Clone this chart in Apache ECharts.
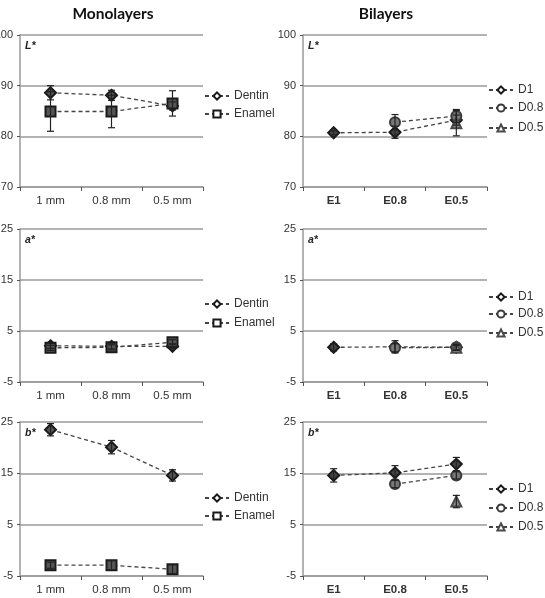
<!DOCTYPE html>
<html><head><meta charset="utf-8">
<script src="https://cdn.jsdelivr.net/npm/echarts@6/dist/echarts.min.js"></script>
<style>html,body{margin:0;padding:0;background:#fff}#c{width:545px;height:598px}</style>
</head><body><div id="c"></div>
<script>
// ---- data ----
const monoCats = ['1 mm', '0.8 mm', '0.5 mm'];
const biCats = ['E1', 'E0.8', 'E0.5'];

const monoL_dentin = [88.6, 88.1, 86.0];
const monoL_dentinErr = [1.4, 1.0, 0.8];
const monoL_enamel = [84.9, 84.9, 86.5];
const monoL_enamelErr = [3.9, 3.2, 2.5];

const monoA_dentin = [2.1, 2.0, 2.0];
const monoA_dentinErr = [0.5, 0.5, 0.5];
const monoA_enamel = [1.7, 1.8, 2.8];
const monoA_enamelErr = [0.5, 0.5, 0.5];

const monoB_dentin = [23.5, 20.1, 14.6];
const monoB_dentinErr = [1.2, 1.3, 1.1];
const monoB_enamel = [-2.9, -2.9, -3.7];
const monoB_enamelErr = [0.6, 0.9, 0.9];

const biL_D1 = [80.7, 80.8, 83.2];
const biL_D1Err = [0.4, 1.2, 1.0];
const biL_D08 = [null, 82.8, 84.0];
const biL_D08Err = [null, 1.5, 1.3];
const biL_D05 = [null, null, 82.6];
const biL_D05Err = [null, null, 2.5];

const biA_D1 = [1.8, 1.9, 1.8];
const biA_D1Err = [0.7, 1.2, 0.6];
const biA_D08 = [null, 1.7, 1.8];
const biA_D08Err = [null, 0.8, 0.5];
const biA_D05 = [null, null, 1.7];
const biA_D05Err = [null, null, 0.5];

const biB_D1 = [14.6, 15.1, 16.8];
const biB_D1Err = [1.3, 1.4, 1.3];
const biB_D08 = [null, 12.9, 14.6];
const biB_D08Err = [null, 0.7, 0.7];
const biB_D05 = [null, null, 9.5];
const biB_D05Err = [null, null, 1.2];

const panelTitles = ['Monolayers', 'Bilayers'];
const panelLabels = ['L*', 'a*', 'b*'];
const yRanges = [[70, 100, 10], [-5, 25, 10], [-5, 25, 10]];

// ---- styles ----
const FONT = 'Arial, "Liberation Sans", sans-serif';
const styles = {
  'Dentin': {symbol: 'diamond', size: 11, fill: '#555', border: '#1a1a1a'},
  'Enamel': {symbol: 'rect', size: 10, fill: '#555', border: '#1a1a1a'},
  'D1': {symbol: 'diamond', size: 11, fill: '#444', border: '#1a1a1a'},
  'D0.8': {symbol: 'circle', size: 10, fill: '#777', border: '#3a3a3a'},
  'D0.5': {symbol: 'triangle', size: 10, fill: '#888', border: '#4a4a4a'}
};

const gridsPos = [
  {left: 20, top: 35, width: 183, height: 152},
  {left: 303, top: 35, width: 184, height: 152},
  {left: 20, top: 229, width: 183, height: 153},
  {left: 303, top: 229, width: 184, height: 153},
  {left: 20, top: 422, width: 183, height: 154},
  {left: 303, top: 422, width: 184, height: 154}
];

const panels = [
  {cats: monoCats, row: 0, series: [['Dentin', monoL_dentin, monoL_dentinErr], ['Enamel', monoL_enamel, monoL_enamelErr]]},
  {cats: biCats, row: 0, series: [['D1', biL_D1, biL_D1Err], ['D0.8', biL_D08, biL_D08Err], ['D0.5', biL_D05, biL_D05Err]]},
  {cats: monoCats, row: 1, series: [['Dentin', monoA_dentin, monoA_dentinErr], ['Enamel', monoA_enamel, monoA_enamelErr]]},
  {cats: biCats, row: 1, series: [['D1', biA_D1, biA_D1Err], ['D0.8', biA_D08, biA_D08Err], ['D0.5', biA_D05, biA_D05Err]]},
  {cats: monoCats, row: 2, series: [['Dentin', monoB_dentin, monoB_dentinErr], ['Enamel', monoB_enamel, monoB_enamelErr]]},
  {cats: biCats, row: 2, series: [['D1', biB_D1, biB_D1Err], ['D0.8', biB_D08, biB_D08Err], ['D0.5', biB_D05, biB_D05Err]]}
];

// legend item vertical centers
const legendCenters = {
  0: [96, 114], 1: [90, 108, 128],
  2: [304, 323], 3: [297, 314, 333],
  4: [498, 516], 5: [489, 508, 527]
};

const grid = [], xAxis = [], yAxis = [], series = [], legend = [], title = [];
const axisGray = '#9a9a9a';

panels.forEach((p, i) => {
  const isBi = i % 2 === 1;
  grid.push(Object.assign({outerBoundsMode: 'none', containLabel: false}, gridsPos[i]));
  const [mn, mx, iv] = yRanges[p.row];
  xAxis.push({
    type: 'category', gridIndex: i, data: p.cats, boundaryGap: true,
    axisLine: {onZero: false, lineStyle: {color: axisGray, width: 1.5}},
    axisTick: {show: true, length: 4, lineStyle: {color: '#555'}},
    axisLabel: {color: '#333', fontSize: 11.5, fontFamily: FONT, fontWeight: isBi ? 'bold' : 'normal', margin: 8}
  });
  yAxis.push({
    type: 'value', gridIndex: i, min: mn, max: mx, interval: iv,
    axisLine: {show: true, lineStyle: {color: axisGray, width: 1.5}},
    axisTick: {show: true, length: 3, lineStyle: {color: '#555'}},
    axisLabel: {color: '#333', fontSize: 11, fontFamily: FONT, margin: 7},
    splitLine: {show: true, lineStyle: {color: axisGray, width: 1.5}}
  });
  title.push({
    text: panelLabels[p.row], left: gridsPos[i].left + 5, top: gridsPos[i].top + 6, padding: 0,
    textStyle: {fontSize: 10.5, fontWeight: 'bold', fontStyle: 'italic', color: '#222', fontFamily: FONT}
  });
  p.series.forEach(([name, vals, errs], k) => {
    const st = styles[name];
    series.push({
      name: name, type: 'line', xAxisIndex: i, yAxisIndex: i, data: vals,
      symbol: st.symbol, symbolSize: st.size, showSymbol: true, connectNulls: false,
      lineStyle: {color: '#444', width: 1.3, type: [4, 3]},
      itemStyle: {color: st.fill, borderColor: st.border, borderWidth: 2},
      z: 3, animation: false
    });
    const ebData = [];
    vals.forEach((v, j) => { if (v !== null) ebData.push([j, v - errs[j], v + errs[j]]); });
    series.push({
      name: name + ' err', type: 'custom', xAxisIndex: i, yAxisIndex: i, data: ebData,
      encode: {x: 0, y: [1, 2]}, z: 4, animation: false, silent: true,
      renderItem: function (params, api) {
        const x = api.value(0);
        const lo = api.coord([x, api.value(1)]);
        const hi = api.coord([x, api.value(2)]);
        const w = 3.5;
        const s = {stroke: '#222', lineWidth: 1.2};
        return {type: 'group', children: [
          {type: 'line', shape: {x1: lo[0], y1: lo[1], x2: hi[0], y2: hi[1]}, style: s},
          {type: 'line', shape: {x1: lo[0] - w, y1: lo[1], x2: lo[0] + w, y2: lo[1]}, style: s},
          {type: 'line', shape: {x1: hi[0] - w, y1: hi[1], x2: hi[0] + w, y2: hi[1]}, style: s}
        ]};
      }
    });
    legend.push({
      data: [{name: name, itemStyle: {color: '#fff', borderColor: st.border, borderWidth: 2}}],
      left: isBi ? 488 : 204, top: legendCenters[i][k] - 7, padding: 0,
      itemWidth: 24, itemHeight: 9, itemGap: 2, selectedMode: false,
      textStyle: {fontSize: 12, color: '#333', fontFamily: FONT, lineHeight: 14}
    });
  });
});

title.push({text: panelTitles[0], left: 113, top: 6, textAlign: 'center', padding: 0,
  textStyle: {fontSize: 15.5, fontWeight: 'bold', color: '#111', fontFamily: 'Lato'}});
title.push({text: panelTitles[1], left: 386, top: 6, textAlign: 'center', padding: 0,
  textStyle: {fontSize: 15.5, fontWeight: 'bold', color: '#111', fontFamily: 'Lato'}});

const chart = echarts.init(document.getElementById('c'), null, {renderer: 'canvas'});
chart.setOption({backgroundColor: '#fff', animation: false, grid, xAxis, yAxis, series, legend, title});
</script></body></html>
